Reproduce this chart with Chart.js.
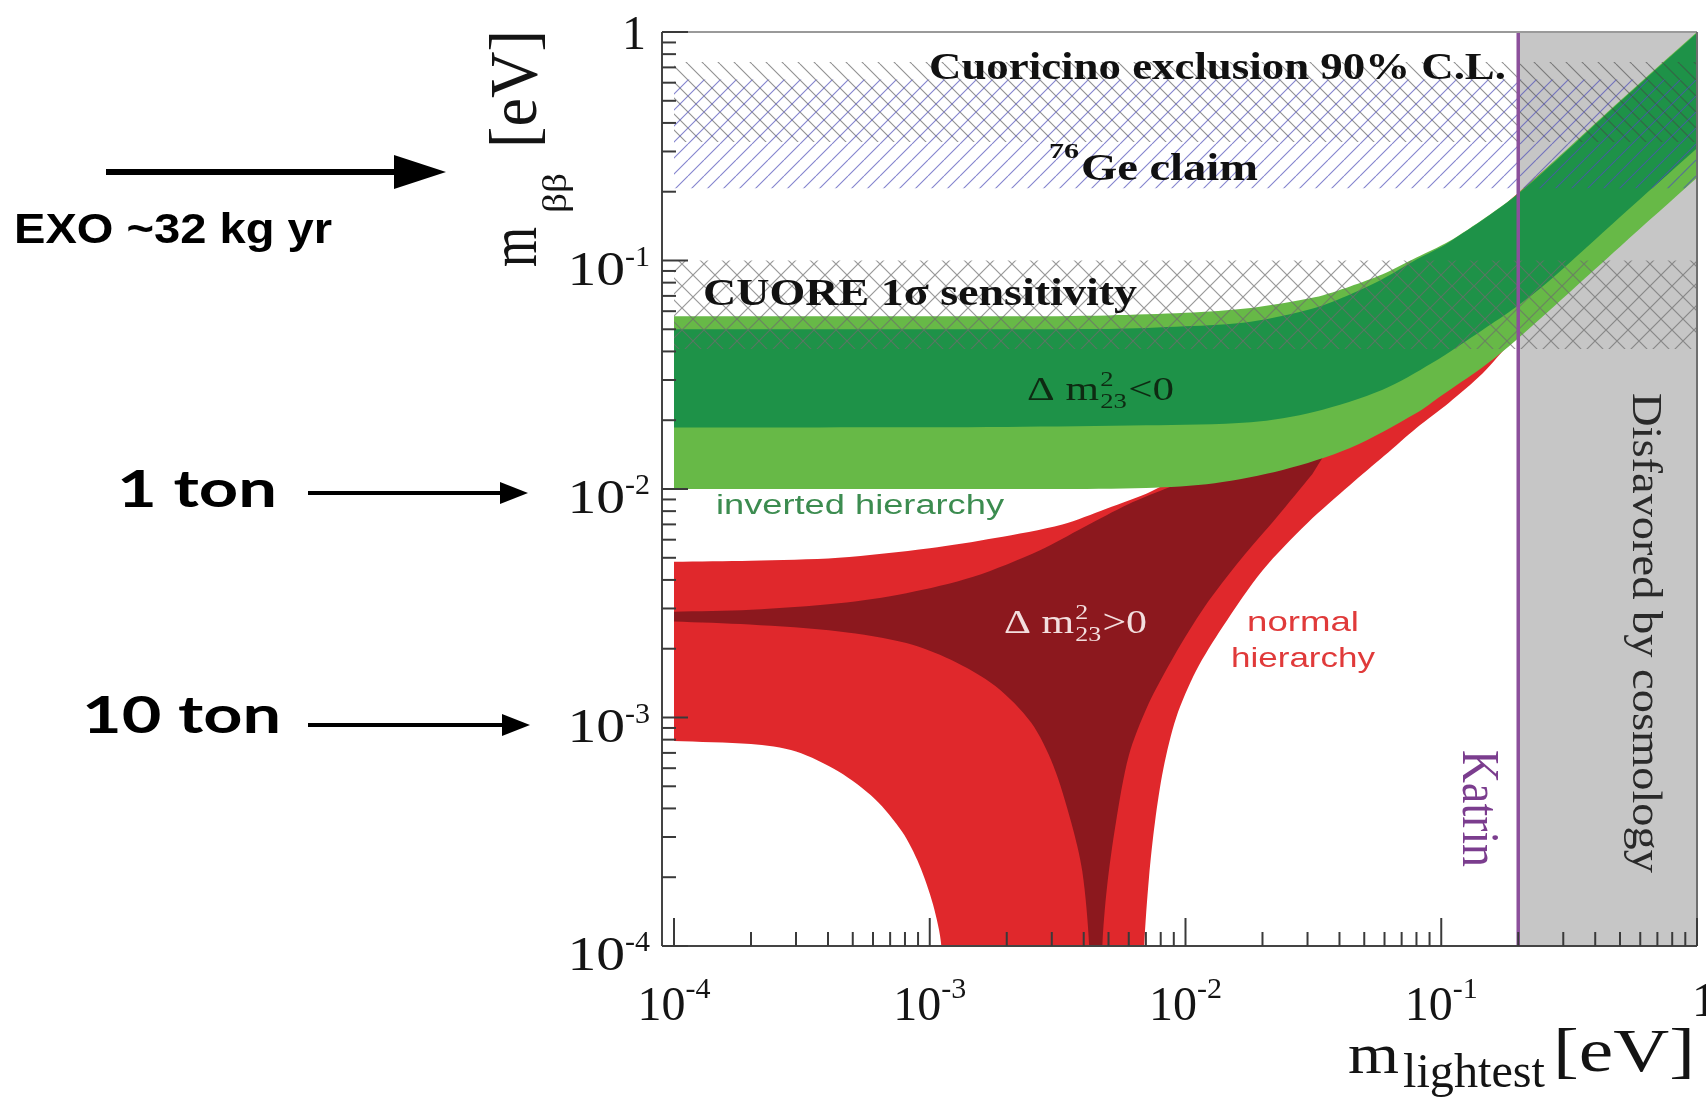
<!DOCTYPE html>
<html>
<head>
<meta charset="utf-8">
<title>m_bb vs m_lightest</title>
<script src="https://cdn.jsdelivr.net/npm/chart.js@4.4.1/dist/chart.umd.min.js"></script>
<style>
    html, body { margin: 0; padding: 0; background: #fff; }
    canvas { display: block; }
</style>
</head>
<body>
<canvas id="myChart" width="1706" height="1104"></canvas>
<script>
// axis ranges, eV
var xRange = [1e-4, 1];
var yRange = [1e-4, 1];

// decade ticks and their labels (base, exponent)
var decadeTicks = [1e-4, 1e-3, 1e-2, 1e-1, 1];
var decadeLabels = [['10', '-4'], ['10', '-3'], ['10', '-2'], ['10', '-1'], ['1', '']];

// limits
var katrinLimit = 0.2;
var cuoricinoBand = [0.33, 0.74];
var geClaimBand = [0.207, 0.62];
var cuoreBand = [0.041, 0.10];

// inverted hierarchy, outer band: top edge left->right, bottom edge right->left  [m_lightest, m_bb]
var ihOuterTop = [[1e-4, 0.057], [2e-3, 0.057], [5e-3, 0.0575], [1e-2, 0.059], [1.8e-2, 0.062], [3.2e-2, 0.069],
    [4.4e-2, 0.077], [5.9e-2, 0.087], [8e-2, 0.103], [0.107, 0.121], [0.15, 0.155], [0.2, 0.197], [0.5, 0.5], [1, 1.0]];
var ihOuterBottom = [[1, 0.23], [0.5, 0.115], [0.196, 0.0448], [0.145, 0.0341], [0.1, 0.0256], [0.08, 0.0215],
    [0.044, 0.0151], [0.024, 0.0121], [0.013, 0.0106], [7e-3, 0.0101], [3e-3, 0.0100], [1e-4, 0.0100]];

// inverted hierarchy, inner band
var ihInnerTop = [[1e-4, 0.050], [5e-3, 0.0502], [1e-2, 0.0515], [1.8e-2, 0.054], [3.2e-2, 0.062], [4.4e-2, 0.071],
    [5.9e-2, 0.083], [8e-2, 0.101], [0.107, 0.12], [0.2, 0.196], [0.5, 0.495], [1, 0.99]];
var ihInnerBottom = [[1, 0.31], [0.5, 0.155], [0.266, 0.082], [0.196, 0.0626], [0.145, 0.0497], [0.092, 0.0356],
    [0.059, 0.0272], [0.032, 0.0218], [0.018, 0.0196], [7e-3, 0.0190], [2e-3, 0.0187], [1e-4, 0.0186]];

// normal hierarchy, outer band (m_bb -> 0 below the axis, points at 5e-5 close it under the frame)
var nhOuterTop = [[1e-4, 4.8e-3], [2e-4, 4.85e-3], [4.4e-4, 5.0e-3], [1e-3, 5.5e-3], [1.8e-3, 6.1e-3], [3.3e-3, 7.0e-3],
    [4.9e-3, 8.2e-3], [7.4e-3, 9.8e-3], [1.2e-2, 1.35e-2], [3e-2, 3e-2], [0.1, 0.1], [1, 0.95]];
var nhOuterRight = [[1, 0.26], [0.19, 0.0445], [0.145, 0.032], [0.107, 0.0238], [0.08, 0.0185], [0.06, 0.014],
    [0.044, 0.0104], [0.03, 0.0071], [0.02, 0.0044], [0.014, 0.0025], [0.011, 0.0016], [9.2e-3, 1.0e-3],
    [8.2e-3, 6.0e-4], [7.6e-3, 3.5e-4], [7.2e-3, 2.0e-4], [6.9e-3, 1.0e-4], [6.85e-3, 5e-5]];
var nhOuterLeft = [[1.11e-3, 5e-5], [1.11e-3, 1e-4], [1.03e-3, 1.52e-4], [9.1e-4, 2.27e-4], [7.8e-4, 3.16e-4],
    [6.1e-4, 4.4e-4], [4.4e-4, 5.8e-4], [3e-4, 7.1e-4], [2e-4, 7.65e-4], [1e-4, 7.9e-4]];

// normal hierarchy, inner band
var nhInnerTop = [[1e-4, 2.9e-3], [2e-4, 2.96e-3], [4.4e-4, 3.16e-3], [8.1e-4, 3.5e-3], [1.48e-3, 4.13e-3],
    [2.7e-3, 5.4e-3], [4.0e-3, 6.8e-3], [6.0e-3, 8.6e-3], [8.3e-3, 1.0e-2], [1.5e-2, 1.3e-2], [4e-2, 1.8e-2]];
var nhInnerRight = [[3.13e-2, 1.16e-2], [2.27e-2, 7.5e-3], [1.64e-2, 4.9e-3], [1.19e-2, 3.06e-3], [9.0e-3, 1.85e-3],
    [7.1e-3, 1.12e-3], [6.0e-3, 6.8e-4], [5.35e-3, 3.5e-4], [4.93e-3, 1.8e-4], [4.73e-3, 1e-4], [4.7e-3, 5e-5]];
var nhInnerLeft = [[4.2e-3, 5e-5], [4.2e-3, 1e-4], [3.95e-3, 2.12e-4], [3.57e-3, 3.49e-4], [3.04e-3, 6.17e-4],
    [2.49e-3, 9.5e-4], [1.81e-3, 1.37e-3], [1.21e-3, 1.79e-3], [8.1e-4, 2.12e-3], [4.43e-4, 2.38e-3],
    [1.98e-4, 2.55e-3], [1e-4, 2.63e-3]];


var SERIF = '"Liberation Serif", "Times New Roman", Times, serif';
var SANS = '"Liberation Sans", Arial, Helvetica, sans-serif';

var canvas = document.getElementById('myChart');
var mainCtx = canvas.getContext('2d');

function pts(list) {
    return list.map(function(p) { return {x: p[0], y: p[1]}; });
}

// join edges into one closed outline; edge ends are doubled so the curve keeps sharp corners there
function outline() {
    var out = [];
    for (var i = 0; i < arguments.length; i++) {
        var e = arguments[i];
        out.push(e[0]);
        out = out.concat(e);
        out.push(e[e.length - 1]);
    }
    return out;
}

function rect(x0, x1, y0, y1) {
    return [[x0, y0], [x1, y0], [x1, y1], [x0, y1]];
}

function hatch(size, color, lw, dirs) {
    var c = document.createElement('canvas');
    c.width = size;
    c.height = size;
    var g = c.getContext('2d');
    g.strokeStyle = color;
    g.lineWidth = lw;
    g.beginPath();
    dirs.forEach(function(d) {
        for (var k = -1; k <= 1; k++) {
            var o = k * size;
            if (d === '/') {
                g.moveTo(o, size);
                g.lineTo(o + size, 0);
            } else {
                g.moveTo(o, 0);
                g.lineTo(o + size, size);
            }
        }
    });
    g.stroke();
    return mainCtx.createPattern(c, 'repeat');
}

function area(list, color, order, tension) {
    return {
        data: pts(list),
        showLine: true,
        fill: 'shape',
        backgroundColor: color,
        borderColor: 'rgba(0,0,0,0)',
        borderWidth: 0,
        pointRadius: 0,
        tension: tension || 0,
        order: order
    };
}

function seg(c, x0, y0, x1, y1) {
    c.beginPath();
    c.moveTo(x0, y0);
    c.lineTo(x1, y1);
    c.stroke();
}

// text helper: opts.width stretches the string to a measured width, rot rotates around the anchor
function txt(c, s, x, y, font, color, opts) {
    opts = opts || {};
    c.save();
    c.font = font;
    c.fillStyle = color;
    c.textAlign = 'left';
    c.textBaseline = 'alphabetic';
    var w = c.measureText(s).width;
    var sx = opts.width ? opts.width / w : (opts.sx || 1);
    c.translate(x, y);
    if (opts.rot) c.rotate(opts.rot);
    if (opts.align === 'right') c.translate(-w * sx, 0);
    c.scale(sx, opts.sy || 1);
    c.fillText(s, 0, 0);
    c.restore();
    return w * sx;
}

function arrow(c, x0, x1, y, lw, headLen, headHalf) {
    c.save();
    c.strokeStyle = '#000';
    c.fillStyle = '#000';
    c.lineWidth = lw;
    seg(c, x0, y, x1 - headLen + 2, y);
    c.beginPath();
    c.moveTo(x1, y);
    c.lineTo(x1 - headLen, y - headHalf);
    c.lineTo(x1 - headLen, y + headHalf);
    c.closePath();
    c.fill();
    c.restore();
}

function deltaM(c, x, y, sign, color, width) {
    c.save();
    c.font = '34px ' + SERIF;
    var w1 = c.measureText('\u0394 m').width;
    var w3 = c.measureText(sign + '0').width;
    c.font = '21px ' + SERIF;
    var w2 = c.measureText('23').width + 2;
    var sx = width / (w1 + w2 + w3);
    c.translate(x, y);
    c.scale(sx, 1);
    c.fillStyle = color;
    c.font = '34px ' + SERIF;
    c.fillText('\u0394 m', 0, 0);
    c.fillText(sign + '0', w1 + w2, 0);
    c.font = '21px ' + SERIF;
    c.fillText('2', w1 + 1, -14);
    c.fillText('23', w1 + 1, 8);
    c.restore();
}

var cuoricinoPattern = hatch(16, 'rgba(70,70,70,0.6)', 1.1, ['\\']);
var gePattern = hatch(16, 'rgba(80,80,185,0.7)', 1.1, ['/']);
var cuorePattern = hatch(22, 'rgba(110,110,110,0.7)', 1.2, ['/', '\\']);

var decorations = {
    id: 'decorations',
    afterDraw: function(chart) {
        var c = chart.ctx;
        var xs = chart.scales.x;
        var ys = chart.scales.y;
        var a = chart.chartArea;
        var fl = a.left - 12;

        c.save();
        c.lineCap = 'butt';

        // frame
        c.lineWidth = 2;
        c.strokeStyle = '#9a9a9a';
        seg(c, fl, a.top, a.right, a.top);
        c.strokeStyle = '#6e6e6e';
        seg(c, a.right, a.top, a.right, a.bottom);
        c.strokeStyle = '#444';
        seg(c, fl, a.top, fl, a.bottom);
        seg(c, fl, a.bottom, a.right, a.bottom);

        // inward log ticks
        var ticks = [];
        for (var e = -4; e < 0; e++) {
            for (var d = 1; d < 10; d++) ticks.push({v: d * Math.pow(10, e), major: d === 1});
        }
        ticks.push({v: 1, major: true});
        c.lineWidth = 2;
        c.strokeStyle = '#3a3a3a';
        ticks.forEach(function(t) {
            var px = xs.getPixelForValue(t.v);
            seg(c, px, a.bottom, px, a.bottom - (t.major ? 28 : 14));
            var py = ys.getPixelForValue(t.v);
            seg(c, fl, py, fl + (t.major ? 26 : 14), py);
        });

        // tick labels
        decadeTicks.forEach(function(v, i) {
            var lb = decadeLabels[i];
            var px = xs.getPixelForValue(v);
            var py = ys.getPixelForValue(v);
            c.font = '48px ' + SERIF;
            var wb = c.measureText(lb[0]).width;
            c.font = '30px ' + SERIF;
            var we = lb[1] ? c.measureText(lb[1]).width : 0;

            if (lb[1]) {
                var x0 = px - (wb + we) / 2;
                txt(c, lb[0], x0, a.bottom + 74, '48px ' + SERIF, '#141414');
                txt(c, lb[1], x0 + wb, a.bottom + 52, '30px ' + SERIF, '#141414');
                txt(c, lb[1], fl - 12, py + 5, '30px ' + SERIF, '#141414', {align: 'right'});
                txt(c, lb[0], fl - 12 - we, py + 24, '48px ' + SERIF, '#141414', {align: 'right', sx: 1.2});
            } else {
                txt(c, lb[0], px - wb / 2 + 7, a.bottom + 70, '48px ' + SERIF, '#141414');
                txt(c, lb[0], fl - 16, py + 17, '48px ' + SERIF, '#141414', {align: 'right'});
            }
        });

        // axis titles
        txt(c, 'm', 1348, 1073, '56px ' + SERIF, '#141414', {width: 51});
        txt(c, 'lightest', 1403, 1087, '48px ' + SERIF, '#141414', {width: 142});
        txt(c, '[eV]', 1553, 1071, '62px ' + SERIF, '#141414', {width: 142});

        var up = -Math.PI / 2;
        txt(c, 'm', 536, 267, '58px ' + SERIF, '#141414', {rot: up, width: 40, sy: 1.15});
        txt(c, '\u03b2\u03b2', 566, 213, '34px ' + SERIF, '#141414', {rot: up, width: 40});
        txt(c, '[eV]', 536, 148, '58px ' + SERIF, '#141414', {rot: up, width: 118, sy: 1.15});

        // labels inside the frame
        txt(c, 'Cuoricino exclusion 90% C.L.', 929, 79, 'bold 38px ' + SERIF, '#111', {width: 577});
        txt(c, '76', 1049, 158, 'bold 22px ' + SERIF, '#111', {width: 30});
        txt(c, 'Ge claim', 1081, 180, 'bold 38px ' + SERIF, '#111', {width: 177});
        txt(c, 'CUORE 1\u03c3 sensitivity', 703, 305, 'bold 38px ' + SERIF, '#111', {width: 434});
        deltaM(c, 1027, 400, '<', '#0e2a12', 147);
        deltaM(c, 1004, 633, '>', '#f3dede', 143);
        txt(c, 'inverted hierarchy', 716, 514, '27px ' + SANS, '#3c8c50', {width: 288});
        txt(c, 'normal', 1247, 631, '28px ' + SANS, '#e03a3a', {width: 112});
        txt(c, 'hierarchy', 1231, 667, '28px ' + SANS, '#e03a3a', {width: 144});
        txt(c, 'Katrin', 1463, 750, '46px ' + SERIF, '#7b3d8e', {rot: Math.PI / 2, width: 117, sy: 1.15});
        txt(c, 'Disfavored by cosmology', 1633, 393, '42px ' + SERIF, '#2a2a2a', {rot: Math.PI / 2, width: 480});

        // exposure annotations on the left
        txt(c, 'EXO ~32 kg yr', 14, 243, 'bold 42px ' + SANS, '#000', {width: 318});
        arrow(c, 106, 446, 172, 6, 52, 17);
        txt(c, '1 ton', 117, 507, 'bold 52px Lato, ' + SANS, '#000', {width: 160});
        arrow(c, 308, 528, 493, 4, 28, 11);
        txt(c, '10 ton', 82, 733, 'bold 52px Lato, ' + SANS, '#000', {width: 199});
        arrow(c, 308, 530, 725, 4, 28, 11);

        c.restore();
    }
};

var myChart = new Chart(canvas, {
    type: 'scatter',
    data: {
        datasets: [
            {
                data: pts([[katrinLimit, yRange[0]], [katrinLimit, yRange[1]]]),
                showLine: true,
                fill: false,
                borderColor: '#8c509b',
                borderWidth: 3.5,
                pointRadius: 0,
                order: 0
            },
            area(rect(xRange[0], xRange[1], cuoreBand[0], cuoreBand[1]), cuorePattern, 1),
            area(rect(xRange[0], xRange[1], geClaimBand[0], geClaimBand[1]), gePattern, 2),
            area(rect(xRange[0], xRange[1], cuoricinoBand[0], cuoricinoBand[1]), cuoricinoPattern, 3),
            area(outline(ihInnerTop, ihInnerBottom), '#1e9248', 4, 0.3),
            area(outline(ihOuterTop, ihOuterBottom), '#67b947', 5, 0.3),
            area(outline(nhInnerTop, nhInnerRight, nhInnerLeft), '#8c181e', 6, 0.3),
            area(outline(nhOuterTop, nhOuterRight, nhOuterLeft), '#e0282c', 7, 0.3),
            area(rect(katrinLimit, xRange[1], yRange[0], yRange[1]), '#c6c6c6', 8)
        ]
    },
    options: {
        responsive: false,
        animation: false,
        events: [],
        layout: {
            padding: {left: 674, right: 9, top: 32, bottom: 158}
        },
        plugins: {
            legend: {display: false},
            tooltip: {enabled: false}
        },
        scales: {
            x: {type: 'logarithmic', min: xRange[0], max: xRange[1], display: false},
            y: {type: 'logarithmic', min: yRange[0], max: yRange[1], display: false}
        }
    },
    plugins: [decorations]
});
</script>
</body>
</html>
